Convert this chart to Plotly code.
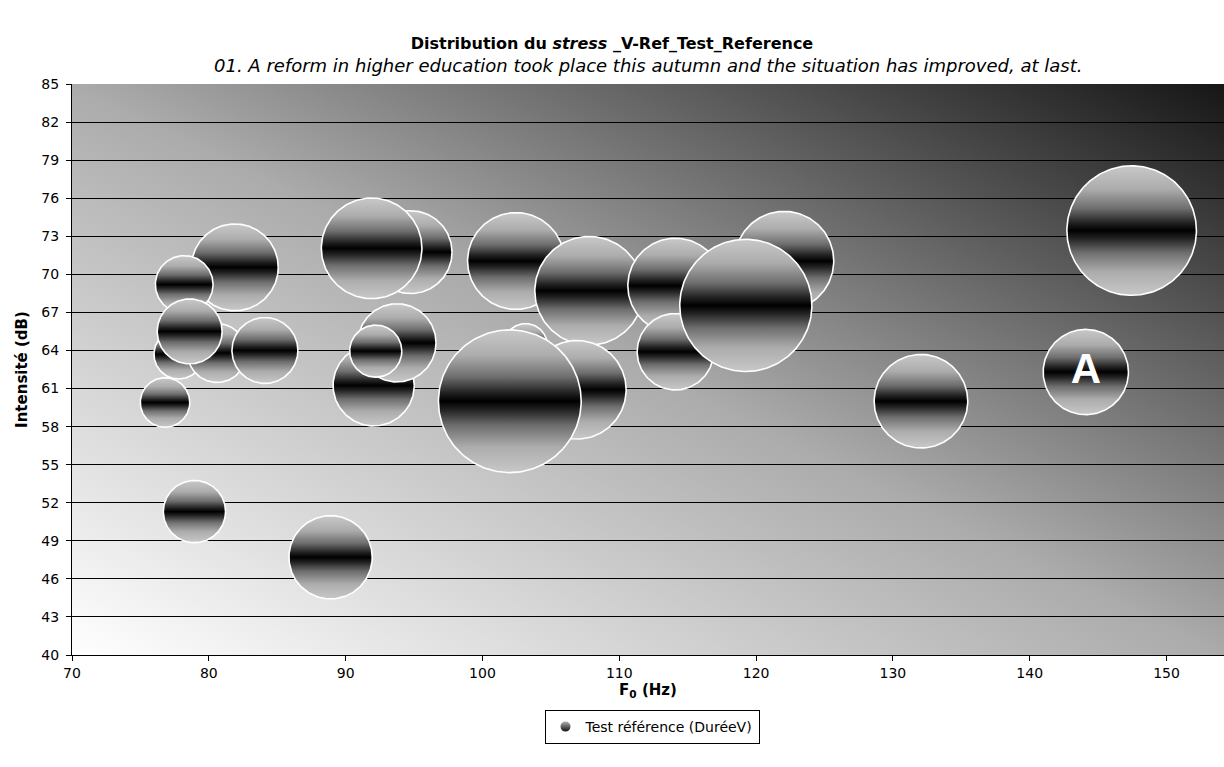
import base64
import numpy as np
import plotly.graph_objects as go

# ---------------- data ----------------
F0_HZ = [76.8, 78.95, 88.9, 81.9, 78.2, 77.8, 80.6, 84.1, 78.6,
         94.75, 91.9, 92.05, 93.75, 92.2, 102.45, 107.8, 103.15, 106.9,
         102.0, 114.1, 114.1, 122.05, 119.25, 147.45, 144.1, 132.05]
INTENSITE_DB = [59.9, 51.3, 47.7, 70.55, 69.2, 63.7, 63.8, 64.0, 65.5,
                71.75, 72.05, 61.25, 64.6, 63.95, 71.05, 68.7, 64.4, 60.9,
                60.0, 69.1, 63.9, 71.05, 67.55, 73.45, 62.3, 60.0]
DUREE_V = [36, 57, 102, 111, 49, 36, 51, 64, 62,
           101, 149, 97, 90, 40, 138, 174, 28, 143,
           300, 133, 86, 145, 257, 247, 107, 129]
LABELS = ["", "", "", "", "", "", "", "", "",
          "", "", "", "", "", "", "", "", "",
          "", "", "", "", "", "", "A", ""]

SERIES_NAME = "Test référence (DuréeV)"
TITLE = "<b>Distribution du <i>stress</i> _V-Ref_Test_Reference</b>"
SUBTITLE = "<i>01. A reform in higher education took place this autumn and the situation has improved, at last.</i>"
X_TITLE = "<b>F<sub>0</sub> (Hz)</b>"
Y_TITLE = "<b>Intensité (dB)</b>"

X_RANGE = [70, 154.2]
Y_RANGE = [40, 85]
X_TICKS = list(range(70, 151, 10))
Y_TICKS = list(range(40, 86, 3))

# ---------------- layout geometry ----------------
W, H = 1224, 767
MARGIN = dict(l=72, r=0, t=84, b=112)
PLOT_W = W - MARGIN["l"] - MARGIN["r"]
PLOT_H = H - MARGIN["t"] - MARGIN["b"]
PX_PER_X = PLOT_W / (X_RANGE[1] - X_RANGE[0])
PX_PER_Y = PLOT_H / (Y_RANGE[1] - Y_RANGE[0])
# Excel-like bubble scale: largest bubble diameter = 25% of smaller plot side
R_MAX_PX = 0.25 * min(PLOT_W, PLOT_H) / 2.0

FONT = "DejaVu Sans, Liberation Sans, Arial, sans-serif"
BUBBLE_SCALE = [[0.0, "#c8c8c8"], [0.18, "#acacac"], [0.33, "#6e6e6e"],
                [0.44, "#222222"], [0.5, "#000000"], [0.56, "#222222"],
                [0.67, "#6e6e6e"], [0.82, "#acacac"], [1.0, "#c8c8c8"]]

fig = go.Figure()

theta = np.linspace(0, 2 * np.pi, 181)
vmax = max(DUREE_V)
for x0, y0, v in zip(F0_HZ, INTENSITE_DB, DUREE_V):
    r_px = R_MAX_PX * np.sqrt(v / vmax)
    rx = r_px / PX_PER_X
    ry = r_px / PX_PER_Y
    fig.add_trace(go.Scatter(
        x=x0 + rx * np.cos(theta),
        y=y0 + ry * np.sin(theta),
        mode="lines",
        fill="toself",
        fillgradient=dict(type="vertical", colorscale=BUBBLE_SCALE),
        line=dict(color="white", width=1.6),
        hoverinfo="skip",
        showlegend=False,
    ))

# data labels (only the labelled bubbles)
lab_idx = [i for i, t in enumerate(LABELS) if t]
fig.add_trace(go.Scatter(
    x=[F0_HZ[i] for i in lab_idx], y=[INTENSITE_DB[i] for i in lab_idx],
    mode="text", text=[LABELS[i] for i in lab_idx],
    textposition="middle center",
    textfont=dict(family="Liberation Sans, Arial, sans-serif", size=42,
                  color="white", weight="bold"),
    hoverinfo="skip", showlegend=False,
))

# legend entry
fig.add_trace(go.Scatter(
    x=[None], y=[None], mode="markers", name=SERIES_NAME,
    marker=dict(symbol="circle", size=8, color="#c0c0c0",
                gradient=dict(type="vertical", color="#000000"),
                line=dict(color="white", width=0.5)),
))

# diagonal gradient background of the plot area
svg = ('<svg xmlns="http://www.w3.org/2000/svg" width="200" height="200" '
       'viewBox="0 0 200 200" preserveAspectRatio="none">'
       '<defs><linearGradient id="g" x1="0" y1="1" x2="1" y2="0">'
       '<stop offset="0" stop-color="#ffffff"/>'
       '<stop offset="0.5" stop-color="#ababab"/>'
       '<stop offset="1" stop-color="#161616"/>'
       '</linearGradient></defs>'
       '<rect width="200" height="200" fill="url(#g)"/></svg>')
bg_src = "data:image/svg+xml;base64," + base64.b64encode(svg.encode()).decode()

fig.update_layout(
    width=W, height=H,
    margin=MARGIN,
    paper_bgcolor="white",
    plot_bgcolor="rgba(0,0,0,0)",
    font=dict(family=FONT, size=14, color="black"),
    title=dict(text=TITLE, x=0.5, xref="container", xanchor="center",
               y=1 - 43 / H, yref="container", yanchor="middle",
               font=dict(family=FONT, size=16, color="black")),
    images=[dict(source=bg_src, xref="paper", yref="paper", x=0, y=1,
                 sizex=1, sizey=1, sizing="stretch", xanchor="left",
                 yanchor="top", layer="below")],
    annotations=[dict(text=SUBTITLE, xref="paper", yref="paper",
                      x=0.5, y=1 + 19 / PLOT_H, xanchor="center",
                      yanchor="middle", showarrow=False,
                      font=dict(family=FONT, size=18, color="black"))],
    xaxis=dict(range=X_RANGE, tickvals=X_TICKS, showgrid=False,
               zeroline=False, showline=True, linecolor="black", linewidth=1,
               ticks="outside", ticklen=5, tickcolor="black",
               tickfont=dict(family=FONT, size=14, color="black"),
               title=dict(text=X_TITLE, standoff=3,
                          font=dict(family=FONT, size=15, color="black"))),
    yaxis=dict(range=Y_RANGE, tickvals=Y_TICKS, showgrid=True,
               gridcolor="black", gridwidth=1, zeroline=False,
               showline=True, linecolor="black", linewidth=1,
               ticks="outside", ticklen=5, tickcolor="black",
               ticklabelstandoff=4,
               tickfont=dict(family=FONT, size=14, color="black"),
               title=dict(text=Y_TITLE, standoff=10,
                          font=dict(family=FONT, size=15, color="black"))),
    legend=dict(orientation="h", x=(652 - MARGIN["l"]) / PLOT_W,
                xanchor="center", y=-(710 - 655) / PLOT_H, yanchor="top",
                bgcolor="white", bordercolor="black", borderwidth=1,
                font=dict(family=FONT, size=14, color="black"),
                itemsizing="constant"),
    showlegend=True,
)

fig.write_html("out.html", config={"displayModeBar": False},
               post_script="document.body.style.margin='0px';")
